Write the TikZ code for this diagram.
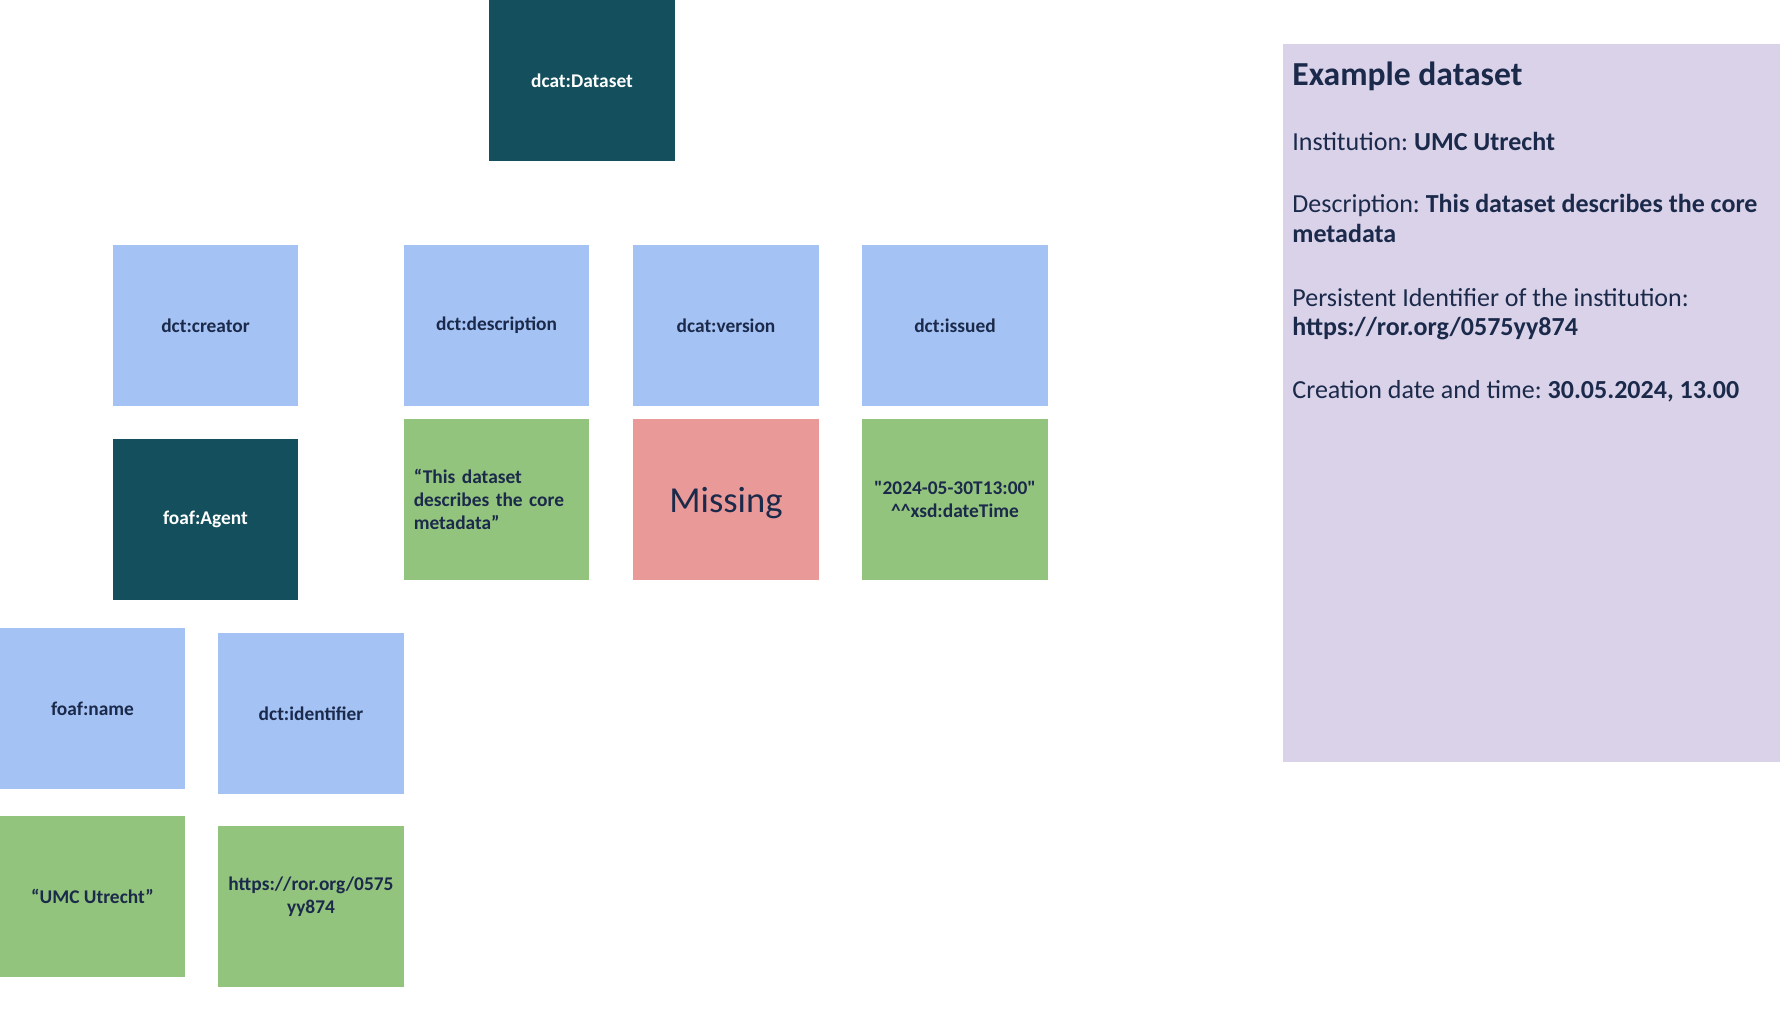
\documentclass[tikz,border=0pt]{standalone}
\usepackage{fontspec}
\setmainfont{Carlito}
\frenchspacing
\usetikzlibrary{positioning}
\definecolor{darkteal}{HTML}{134F5C}
\definecolor{lightblue}{HTML}{A4C2F4}
\definecolor{lightgreen}{HTML}{93C47D}
\definecolor{lightred}{HTML}{EA9999}
\definecolor{lightpurple}{HTML}{D9D2E9}
\definecolor{navytext}{HTML}{1B2A4A}

\begin{document}
\begin{tikzpicture}[x=0.5pt,y=0.5pt,yscale=-1,xscale=1,
  box/.style={minimum width=92.75pt,minimum height=80.5pt,inner sep=0pt,text=navytext,align=center,font=\fontsize{9.7}{11.5}\selectfont\bfseries},
  classbox/.style={box,fill=darkteal,text=white},
  propbox/.style={box,fill=lightblue},
  litbox/.style={box,fill=lightgreen},
  missbox/.style={box,fill=lightred,text depth=0pt,font=\fontsize{18.3}{22}\selectfont},
  boxtext/.style={inner sep=0pt,text=navytext,align=center,font=\fontsize{9.7}{11.5}\selectfont\bfseries},
  infotext/.style={anchor=base west,inner sep=0pt,text=navytext,font=\fontsize{13}{15.5}\selectfont}]
\useasboundingbox (0,0) rectangle (1791,1017);
% dataset and its properties
\node[classbox] (dataset) at (582,80.5) {dcat:Dataset};
\node[propbox] (creator) at (205.5,325.5) {dct:creator};
\node[propbox] (description) at (496.5,325.5) {dct:description};
\node[propbox] (version) at (726,325.5) {dcat:version};
\node[propbox] (issued) at (955,325.5) {dct:issued};
% values
\node[litbox,align=left,text width=82.75pt,below=6.25pt of description] (desctext) {“This dataset\\describes the core\\metadata”};
\node[missbox,below=6.25pt of version] (missing) {Missing};
\node[litbox,below=6.25pt of issued] (date) {\textquotedbl 2024-05-30T13:00\textquotedbl\\\textasciicircum\textasciicircum xsd:dateTime};
% the agent
\node[classbox] (agent) at (205.5,519.5) {foaf:Agent};
\node[propbox] (name) at (92.5,708.5) {foaf:name};
\node[propbox] (identifier) at (311,713.5) {dct:identifier};
\node[litbox] (umc) at (92.5,896.5) {“UMC Utrecht”};
\node[litbox] (ror) at (311,906.5) {};
\node[boxtext] (rortext) at ([yshift=-5pt]ror.center) {https://ror.org/0575\\yy874};
% example panel
\node[fill=lightpurple,minimum width=248.5pt,minimum height=359pt,inner sep=0pt] (panel) at (1531.5,403) {};
\node[infotext,font=\fontsize{16.8}{19}\selectfont\bfseries] (title) at (1292,85) {Example dataset};
\node[infotext] (inst) at (1292,150) {Institution: \textbf{UMC Utrecht}};
\node[infotext] (desc1) at (1292,212.7) {Description: \textbf{This dataset describes the core}};
\node[infotext] (desc2) at (1292,242.5) {\textbf{metadata}};
\node[infotext] (pid1) at (1292,306) {Persistent Identifier of the institution:};
\node[infotext] (pid2) at (1292,335) {\textbf{https://ror.org/0575yy874}};
\node[infotext] (created) at (1292,398) {Creation date and time: \textbf{30.05.2024, 13.00}};
\end{tikzpicture}
\end{document}
